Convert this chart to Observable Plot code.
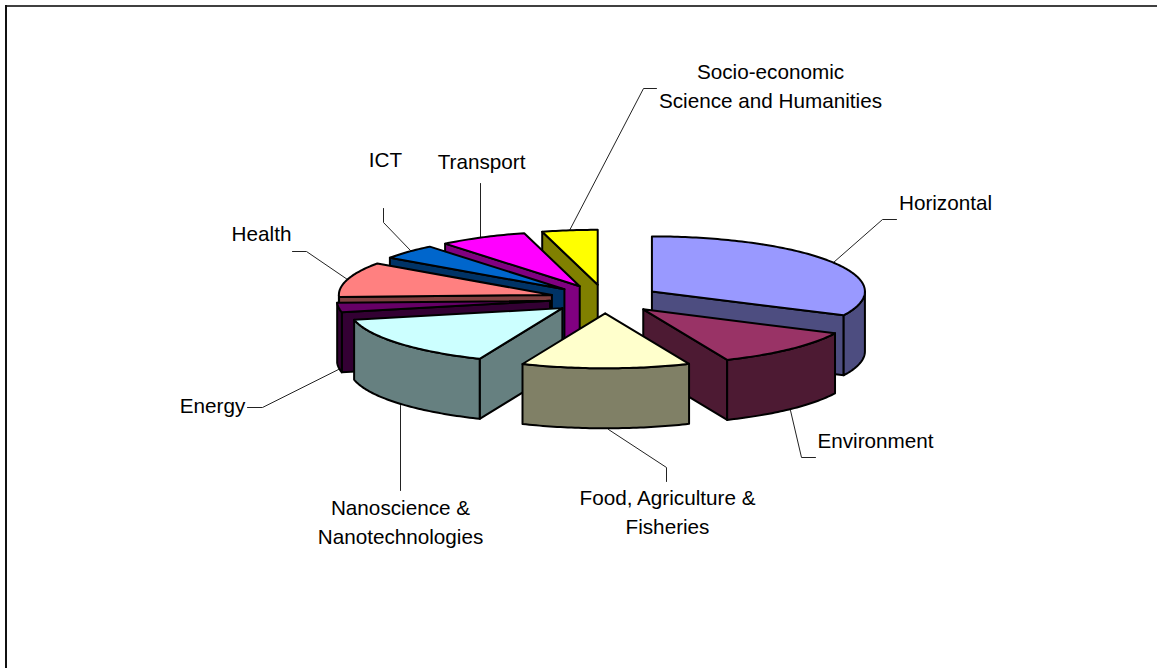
<!DOCTYPE html>
<html>
<head>
<meta charset="utf-8">
<script src="https://cdn.jsdelivr.net/npm/d3@7"></script>
<script src="https://cdn.jsdelivr.net/npm/@observablehq/plot@0.6"></script>
<style>html,body{margin:0;padding:0;background:#fff}svg{display:block}</style>
</head>
<body>
<div id="chart"></div>
<script>
// Data: share of the pie (%), clockwise from 12 o'clock
const categories = ["Horizontal","Environment","Food, Agriculture & Fisheries","Nanoscience & Nanotechnologies","Energy","Health","ICT","Transport","Socio-economic Science and Humanities"];
const shares = [32.2, 11.4, 12.8, 15.3, 2.8, 10.3, 4.4, 6.7, 4.2];
const topColors = ["#9999FF","#993366","#FFFFCC","#CCFFFF","#660066","#FF8080","#0066CC","#FF00FF","#FFFF00"];
const sideColors = ["#4D4D80","#4D1A33","#808066","#668080","#330033","#804040","#003366","#800080","#808000"];
// Back-to-front drawing order (indices into categories)
const drawOrder = [8,7,6,5,4,0,3,1,2];

// Labels (annotation layout)
const labelLines = [
  ["Socio-economic",770,72],["Science and Humanities",770,101],["Horizontal",945,203],
  ["ICT",385,160],["Transport",481,162],["Health",261,234],["Energy",212,406],
  ["Nanoscience &",400,508],["Nanotechnologies",400,537],
  ["Food, Agriculture &",667,498],["Fisheries",667,527],["Environment",875,441]
].map(([text,x,y]) => ({text,x,y}));
const leaderPaths = [
  [[569,230],[643,88],[656,88]],
  [[833,262],[882,219],[896,219]],
  [[347,279],[306,251],[292,251]],
  [[338,369],[262,407],[247,407]],
  [[410,250],[383,222],[383,208]],
  [[480,237],[480,183]],
  [[400,405],[400,490]],
  [[608,429],[666,467],[666,481]],
  [[790,410],[801,457],[815,457]]
];

// Pie geometry
const pie = {cx:604.5, cy:298.5, rx:213, ry:55, depth:60, explode:0.26};
const rad = d => d * Math.PI / 180;
const total = d3.sum(shares);
let acc = 0;
const slices = shares.map((v,i) => {
  const a0 = acc / total * 360; acc += v; const a1 = acc / total * 360;
  const mid = (a0 + a1) / 2;
  return {i, a0, a1,
    ox: pie.cx + pie.explode * pie.rx * Math.sin(rad(mid)),
    oy: pie.cy - pie.explode * pie.ry * Math.cos(rad(mid))};
});
const rim = (s,a) => [s.ox + pie.rx * Math.sin(rad(a)), s.oy - pie.ry * Math.cos(rad(a))];
const arcPts = (s,a,b) => { const n = Math.max(2, Math.ceil(b - a)); return d3.range(n + 1).map(k => rim(s, a + (b - a) * k / n)); };

const polys = [];
let pid = 0;
const addPoly = (pts, fill) => { pid++; [...pts, pts[0]].forEach(([x,y]) => polys.push({poly:pid, x, y, fill})); };
const down = ([x,y]) => [x, y + pie.depth];
for (const idx of drawOrder) {
  const s = slices[idx], side = sideColors[idx], top = topColors[idx], o = [s.ox, s.oy];
  if (s.a0 > 180 && s.a0 < 360) addPoly([o, rim(s,s.a0), down(rim(s,s.a0)), down(o)], side);
  if (s.a1 > 0 && s.a1 < 180) addPoly([o, rim(s,s.a1), down(rim(s,s.a1)), down(o)], side);
  const w0 = Math.max(s.a0, 90), w1 = Math.min(s.a1, 270);
  if (w1 > w0) { const arc = arcPts(s,w0,w1); addPoly([...arc, ...arc.slice().reverse().map(down)], side); }
  addPoly([o, ...arcPts(s,s.a0,s.a1)], top);
}
const leaders = leaderPaths.flatMap((p,k) => p.map(([x,y]) => ({k,x,y})));

const chart = Plot.plot({
  width: 1157, height: 668, margin: 0,
  x: {domain:[0,1157], range:[0,1157], axis:null},
  y: {domain:[0,668], range:[0,668], axis:null},
  style: {fontFamily:"'Liberation Sans', Arial, sans-serif", background:"#fff"},
  marks: [
    Plot.ruleY([5.5], {x1:5, x2:1157, stroke:"#000", strokeWidth:1.5}),
    Plot.ruleX([5.5], {y1:5, y2:668, stroke:"#111", strokeWidth:2}),
    Plot.line(leaders, {x:"x", y:"y", z:"k", stroke:"#222", strokeWidth:1}),
    Plot.line(polys, {x:"x", y:"y", z:"poly", fill:"fill", stroke:"#000", strokeWidth:2, strokeLinejoin:"round"}),
    Plot.text(labelLines, {x:"x", y:"y", text:"text", fontSize:20.7, fill:"#000", textAnchor:"middle", lineAnchor:"middle"})
  ]
});
document.getElementById("chart").appendChild(chart);
</script>
</body>
</html>
